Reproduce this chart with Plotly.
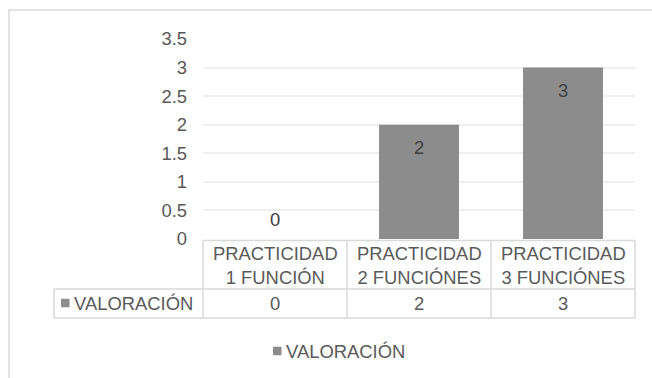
import plotly.graph_objects as go

# Chart data
categories = ["PRACTICIDAD<br>1 FUNCIÓN", "PRACTICIDAD<br>2 FUNCIÓNES", "PRACTICIDAD<br>3 FUNCIÓNES"]
series_name = "VALORACIÓN"
values = [0, 2, 3]
y_ticks = [0, 0.5, 1, 1.5, 2, 2.5, 3, 3.5]

W, H = 652, 378
L, R, T, B = 203, 17, 39, 139
PW, PH = W - L - R, H - T - B

BAR = "#8c8c8c"
TXT = "#595959"
LINE = "#d9d9d9"
FONT = "Liberation Sans, Arial, sans-serif"
FS = 18.4


def px_x(px):
    return (px - L) / PW


def px_y(py):
    return (H - B - py) / PH


def label(text, x, y, xref="paper", yref="paper", color=TXT, xanchor="center", **kw):
    return dict(x=x, y=y, xref=xref, yref=yref, text=text, showarrow=False,
                xanchor=xanchor, yanchor="middle", align="center",
                font=dict(size=FS, color=color, family=FONT), **kw)


idx = list(range(len(categories)))

fig = go.Figure()
fig.add_trace(go.Bar(
    x=idx, y=values, name=series_name,
    marker=dict(color=BAR, line=dict(width=0)),
    width=0.555, showlegend=False, hoverinfo="skip",
))

annotations = []
shapes = []

# value labels on the bars
for i, v in zip(idx, values):
    annotations.append(label(str(v), i, v, xref="x", yref="y", color="#404040",
                             yshift=20 if v == 0 else -23))

# data table: category header row
for i, c in zip(idx, categories):
    annotations.append(label(c, i, px_y(265.5), xref="x"))
# data table: value row
for i, v in zip(idx, values):
    annotations.append(label(str(v), i, px_y(303), xref="x"))


def key_entry(x_left, y_mid, size=8.5):
    # series colour key followed by the series name
    shapes.append(dict(type="rect", xref="paper", yref="paper",
                       x0=px_x(x_left), x1=px_x(x_left + size),
                       y0=px_y(y_mid - size / 2), y1=px_y(y_mid + size / 2),
                       fillcolor=BAR, line=dict(width=0)))
    annotations.append(label(series_name, px_x(x_left + size + 2.5), px_y(y_mid),
                             xanchor="left"))


# series label cell of the table, and the legend below
key_entry(61, 303)
key_entry(273, 351)


def hline(x0, x1, y):
    shapes.append(dict(type="line", xref="paper", yref="paper",
                       x0=px_x(x0), x1=px_x(x1), y0=px_y(y), y1=px_y(y),
                       line=dict(color=LINE, width=1.5)))


def vline(x, y0, y1):
    shapes.append(dict(type="line", xref="paper", yref="paper",
                       x0=px_x(x), x1=px_x(x), y0=px_y(y0), y1=px_y(y1),
                       line=dict(color=LINE, width=1.5)))


# table grid
hline(L, L + PW, 240.5)
hline(54, L + PW, 289)
hline(54, L + PW, 318)
vline(54, 289, 318)
for k in range(len(categories) + 1):
    vline(L + k * PW / len(categories), 240.5, 318)

# chart area border
shapes.append(dict(type="rect", xref="paper", yref="paper",
                   x0=px_x(9), x1=px_x(700), y0=px_y(10), y1=px_y(420),
                   line=dict(color=LINE, width=1.5), fillcolor="rgba(0,0,0,0)"))

fig.update_layout(
    width=W, height=H,
    margin=dict(l=L, r=R, t=T, b=B, pad=0),
    paper_bgcolor="white", plot_bgcolor="white",
    font=dict(family=FONT, size=FS, color=TXT),
    xaxis=dict(range=[-0.5, len(categories) - 0.5], showticklabels=False,
               showgrid=False, zeroline=False, showline=False, ticks=""),
    yaxis=dict(range=[0, 3.5], tickvals=y_ticks, ticktext=[f"{t:g}" for t in y_ticks],
               showgrid=True, gridcolor="#efefef", gridwidth=1.5,
               zeroline=False, showline=False, ticks="",
               ticklabelstandoff=15,
               tickfont=dict(size=FS, color=TXT, family=FONT)),
    annotations=annotations,
    shapes=shapes,
    bargap=0.445,
)

fig.write_html("out.html")
